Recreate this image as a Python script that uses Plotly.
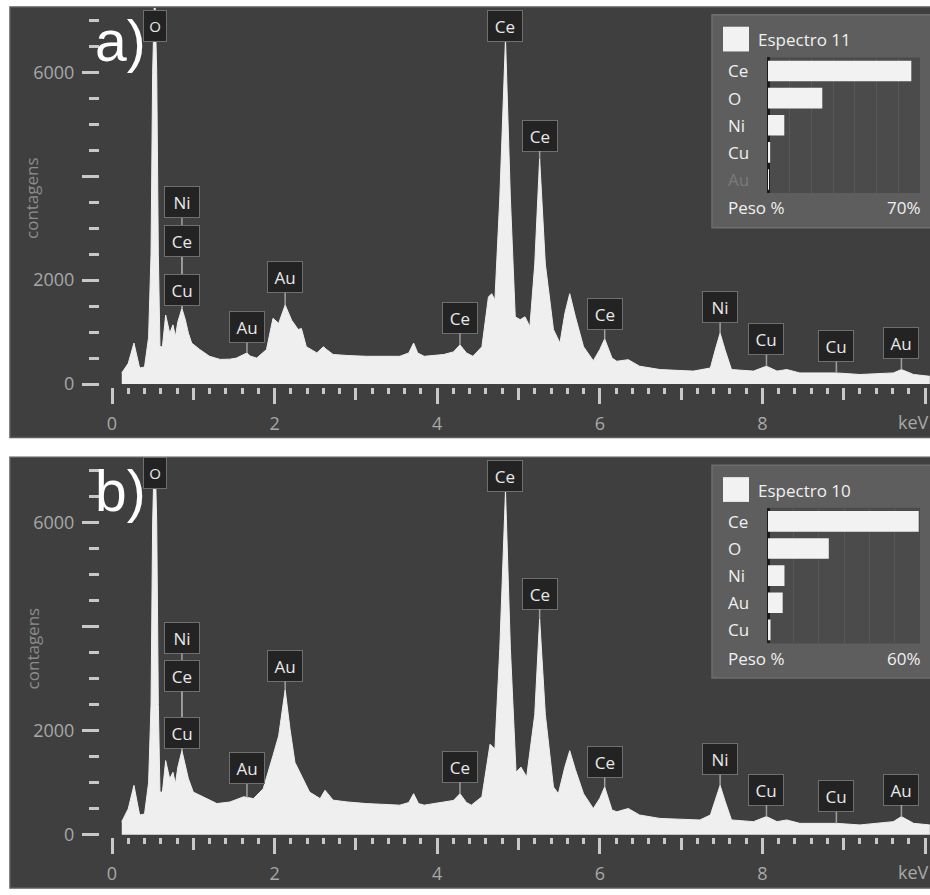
import plotly.graph_objects as go
import numpy as np

W, H = 930, 895
def px(x): return x / W
def py(y): return 1 - y / H

# ---------------- data ----------------
energy_a = [0.12, 0.20, 0.27, 0.31, 0.34, 0.40, 0.45, 0.48, 0.50, 0.525, 0.55, 0.57, 0.59, 0.62, 0.66, 0.71,
            0.75, 0.78, 0.81, 0.86, 0.90, 0.94, 0.98, 1.08, 1.20, 1.33, 1.45, 1.53, 1.61, 1.66, 1.70, 1.78,
            1.90, 1.98, 2.05, 2.13, 2.21, 2.29, 2.33, 2.39, 2.52, 2.60, 2.64, 2.72, 2.90, 3.13, 3.54, 3.65,
            3.71, 3.76, 3.84, 4.08, 4.20, 4.28, 4.36, 4.44, 4.55, 4.63, 4.67, 4.71, 4.77, 4.84, 4.90, 4.96,
            5.02, 5.08, 5.14, 5.20, 5.26, 5.33, 5.43, 5.51, 5.57, 5.63, 5.70, 5.80, 5.92, 6.00, 6.06, 6.15,
            6.21, 6.28, 6.35, 6.49, 6.74, 7.15, 7.36, 7.42, 7.48, 7.54, 7.62, 7.89, 8.05, 8.18, 8.30, 8.46,
            8.91, 9.20, 9.61, 9.71, 9.86, 10.06]
counts_a = [215, 400, 790, 520, 310, 330, 900, 2500, 6000, 7600, 6000, 2500, 720, 720, 1330, 980,
            1140, 915, 1200, 1455, 1250, 980, 790, 665, 535, 475, 480, 500, 560, 600, 540, 500,
            665, 1265, 1170, 1520, 1230, 1050, 1070, 720, 600, 720, 665, 570, 550, 535, 535, 600,
            790, 600, 535, 570, 620, 755, 600, 535, 720, 1675, 1740, 1620, 3580, 6650, 3580, 1295,
            1240, 1295, 1105, 2310, 4340, 2310, 1050, 790, 1360, 1740, 1295, 720, 450, 665, 870, 500,
            440, 450, 470, 345, 280, 250, 310, 660, 980, 660, 280, 250, 345, 250, 280, 215,
            215, 185, 215, 280, 185, 150]

energy_b = [0.12, 0.20, 0.27, 0.31, 0.34, 0.40, 0.45, 0.48, 0.50, 0.525, 0.55, 0.57, 0.59, 0.62, 0.66, 0.71,
            0.75, 0.78, 0.81, 0.86, 0.90, 0.94, 1.00, 1.12, 1.29, 1.45, 1.55, 1.62, 1.74, 1.86, 1.98, 2.05,
            2.13, 2.19, 2.25, 2.33, 2.43, 2.56, 2.62, 2.72, 2.90, 3.13, 3.54, 3.65, 3.71, 3.77, 3.84, 4.08,
            4.20, 4.28, 4.36, 4.42, 4.55, 4.65, 4.71, 4.77, 4.84, 4.90, 4.97, 5.03, 5.10, 5.20, 5.26, 5.33,
            5.43, 5.49, 5.57, 5.63, 5.70, 5.80, 5.92, 6.00, 6.06, 6.15, 6.21, 6.35, 6.49, 6.74, 7.23, 7.36,
            7.42, 7.48, 7.54, 7.62, 7.89, 8.05, 8.18, 8.30, 8.46, 8.91, 9.20, 9.61, 9.71, 9.86, 10.06]
counts_b = [253, 500, 950, 600, 380, 400, 1000, 2500, 6000, 7600, 6000, 2500, 820, 820, 1425, 1075,
            1200, 980, 1300, 1615, 1350, 1075, 820, 730, 600, 630, 680, 730, 695, 885, 1520, 1900,
            2785, 2025, 1390, 1140, 820, 695, 855, 665, 630, 600, 570, 620, 790, 600, 570, 630,
            660, 790, 620, 570, 730, 1740, 1645, 3580, 6600, 3580, 1200, 1300, 1110, 2310, 4150, 2310,
            920, 790, 1300, 1615, 1250, 790, 505, 700, 920, 475, 443, 505, 380, 315, 285, 380,
            650, 950, 650, 285, 253, 350, 253, 285, 220, 220, 190, 253, 350, 220, 190]

elements_a = ["Ce", "O", "Ni", "Cu", "Au"]
weight_a = [66, 25, 7.5, 1.0, 0.3]
elements_b = ["Ce", "O", "Ni", "Au", "Cu"]
weight_b = [59.5, 24, 6.5, 5.8, 1.0]

labels_a = [("O", 0.525), ("Ni", 0.86), ("Ce", 0.86), ("Cu", 0.86), ("Au", 1.66), ("Au", 2.13),
            ("Ce", 4.28), ("Ce", 4.84), ("Ce", 5.26), ("Ce", 6.06), ("Ni", 7.48), ("Cu", 8.05),
            ("Cu", 8.91), ("Au", 9.71)]
labels_b = [("O", 0.525), ("Ni", 0.86), ("Ce", 0.86), ("Cu", 0.86), ("Au", 1.66), ("Au", 2.13),
            ("Ce", 4.28), ("Ce", 4.84), ("Ce", 5.26), ("Ce", 6.06), ("Ni", 7.48), ("Cu", 8.05),
            ("Cu", 8.91), ("Au", 9.71)]
# label vertical offsets (px) - style only
ay_a = [-13, -106, -67, -18, -26, -28, -27, -13, -23, -25, -26, -27, -27, -27]
ay_b = [-15, -113, -75, -18, -29, -24, -27, -15, -25, -25, -26, -27, -27, -27]

spectrum_names = ["Espectro 11", "Espectro 10"]
scale_max = [70, 60]

# ---------------- style ----------------
FONT = "Open Sans"
BG = "#3f3f3f"
FILL = "#efefef"
TICKC = "#c8c8c8"
LBLC = "#a8a8a8"

XR = [(100 - 112) / 81.3, (930 - 112) / 81.3]
major_x = [0, 2, 4, 6, 8, 10]
odd_x = [1, 3, 5, 7, 9]
minor_x = [round(0.2 * i, 1) for i in range(51) if i % 5 != 0]
major_y = [0, 2000, 4000, 6000]
minor_y = [v for v in range(500, 7500, 500) if v not in major_y]

fig = go.Figure()

offsets = [0, 455]
yranges = [[-57, 7239], [-51, 7226]]
datasets = [(energy_a, counts_a), (energy_b, counts_b)]
bars = [(elements_a, weight_a), (elements_b, weight_b)]
label_sets = [(labels_a, ay_a), (labels_b, ay_b)]
panel_tags = ["a)", "b)"]

shapes = []
annotations = []
layout_axes = {}

for i in range(2):
    off = offsets[i]
    xm, ym = (1, 1) if i == 0 else (3, 3)
    xi, yi = (2, 2) if i == 0 else (4, 4)
    xo = 5 if i == 0 else 6
    e, c = datasets[i]

    shapes.append(dict(type="rect", xref="paper", yref="paper", x0=px(10), x1=px(940),
                       y0=py(off + 442), y1=py(off + 7), fillcolor=BG,
                       line=dict(color="#5c5c5c", width=1.5), layer="below"))
    shapes.append(dict(type="rect", xref="paper", yref="paper", x0=px(712), x1=px(945),
                       y0=py(off + 230), y1=py(off + 15), fillcolor="#5e5e5e",
                       line=dict(color="#6e6e6e", width=1.5), layer="below"))
    shapes.append(dict(type="rect", xref="paper", yref="paper", x0=px(768), x1=px(920),
                       y0=py(off + 195), y1=py(off + 58), fillcolor="#4b4b4b",
                       line=dict(width=0), layer="below"))
    shapes.append(dict(type="rect", xref="paper", yref="paper", x0=px(723), x1=px(749),
                       y0=py(off + 52), y1=py(off + 27), fillcolor="#f2f2f2",
                       line=dict(width=0), layer="above"))

    fig.add_trace(go.Scatter(x=e, y=c, mode="lines", fill="tozeroy", fillcolor=FILL,
                             line=dict(color=FILL, width=1), xaxis=f"x{xm}", yaxis=f"y{ym}",
                             showlegend=False, hoverinfo="skip"))
    fig.add_trace(go.Scatter(x=[], y=[], xaxis=f"x{xo}", yaxis=f"y{ym}", showlegend=False))
    el, wt = bars[i]
    fig.add_trace(go.Bar(x=wt, y=el, orientation="h", marker=dict(color="#f2f2f2", line=dict(width=0)),
                         width=0.76, xaxis=f"x{xi}", yaxis=f"y{yi}", showlegend=False))

    ydom = [py(off + 391), py(off + 8)]
    layout_axes[f"xaxis{xm}"] = dict(domain=[px(100), 1], range=XR, anchor=f"y{ym}",
                                     tickmode="array", tickvals=major_x,
                                     ticktext=["0", "2", "4", "6", "8", ""],
                                     ticks="outside", ticklen=16, tickwidth=3, tickcolor=TICKC,
                                     minor=dict(tickmode="array", tickvals=minor_x, ticks="outside",
                                                ticklen=6, tickwidth=3, tickcolor=TICKC),
                                     showgrid=False, zeroline=False, showline=False,
                                     tickfont=dict(family=FONT, size=18, color=LBLC),
                                     ticklabelstandoff=4)
    layout_axes[f"xaxis{xo}"] = dict(overlaying=f"x{xm}", anchor=f"y{ym}", range=XR, side="bottom",
                                     tickmode="array", tickvals=odd_x, ticktext=[""] * 5,
                                     ticks="outside", ticklen=12, tickwidth=3, tickcolor=TICKC,
                                     showgrid=False, zeroline=False, showline=False)
    layout_axes[f"yaxis{ym}"] = dict(domain=ydom, range=yranges[i], anchor=f"x{xm}",
                                     tickmode="array", tickvals=major_y,
                                     ticktext=["0", "2000", "", "6000"],
                                     ticks="outside", ticklen=17, tickwidth=3, tickcolor=TICKC,
                                     minor=dict(tickmode="array", tickvals=minor_y, ticks="outside",
                                                ticklen=10, tickwidth=3, tickcolor=TICKC),
                                     showgrid=False, zeroline=False, showline=False,
                                     tickfont=dict(family=FONT, size=18, color=LBLC),
                                     ticklabelstandoff=4)
    layout_axes[f"xaxis{xi}"] = dict(domain=[px(768), px(920)], range=[0, scale_max[i]], anchor=f"y{yi}",
                                     showgrid=True, gridcolor="#585858", gridwidth=1, dtick=10, tick0=0,
                                     showticklabels=False, ticks="", zeroline=True,
                                     zerolinecolor="#1c1c1c", zerolinewidth=3, showline=False)
    layout_axes[f"yaxis{yi}"] = dict(domain=[py(off + 195), py(off + 58)], anchor=f"x{xi}",
                                     type="category", categoryorder="array", categoryarray=el,
                                     autorange="reversed", showticklabels=False,
                                     ticks="", showgrid=False, zeroline=False)
    # left-aligned row labels placed through the inset's category axis
    for s, w in zip(el, wt):
        annotations.append(dict(x=px(726), y=s, xref="paper", yref=f"y{yi}", xanchor="left",
                                yanchor="middle", text=s, showarrow=False,
                                font=dict(family=FONT, size=17,
                                          color="#7a7a7a" if w < 0.5 else "#f0f0f0")))

    labs, ays = label_sets[i]
    for (txt, xe), ay in zip(labs, ays):
        yv = min(float(np.interp(xe, e, c)), 6650)
        annotations.append(dict(x=xe, y=yv, xref=f"x{xm}", yref=f"y{ym}", text=txt,
                                showarrow=True, arrowhead=0, arrowwidth=1.5, arrowcolor="#a0a0a0",
                                ax=0, ay=ay, bgcolor="#232323", bordercolor="#6f6f6f", borderwidth=1,
                                borderpad=4, width=14 if txt == "O" else 26, height=22,
                                font=dict(family=FONT, size=15 if txt == "O" else 17, color="#e8e8e8")))

    annotations.append(dict(x=px(93), y=py(off + 7), xref="paper", yref="paper", xanchor="left",
                            yanchor="top", text=panel_tags[i], showarrow=False,
                            font=dict(family="Liberation Sans", size=57, color="#ffffff")))
    annotations.append(dict(x=px(32), y=py(off + 200), xref="paper", yref="paper", textangle=-90,
                            xanchor="center", yanchor="middle",
                            text="contagens", showarrow=False,
                            font=dict(family=FONT, size=17, color="#8c8c8c")))
    annotations.append(dict(x=px(931), y=py(off + 426), xref="paper", yref="paper", xanchor="right",
                            yanchor="middle", text="keV", showarrow=False,
                            font=dict(family=FONT, size=18, color=LBLC)))
    annotations.append(dict(x=px(756), y=py(off + 40), xref="paper", yref="paper", xanchor="left",
                            yanchor="middle", text=spectrum_names[i], showarrow=False,
                            font=dict(family=FONT, size=17, color="#f0f0f0")))
    annotations.append(dict(x=px(726), y=py(off + 210), xref="paper", yref="paper", xanchor="left",
                            yanchor="middle", text="Peso %", showarrow=False,
                            font=dict(family=FONT, size=17, color="#f0f0f0")))
    annotations.append(dict(x=px(923), y=py(off + 210), xref="paper", yref="paper", xanchor="right",
                            yanchor="middle", text=f"{scale_max[i]}%", showarrow=False,
                            font=dict(family=FONT, size=17, color="#f0f0f0")))

fig.update_layout(width=W, height=H, margin=dict(l=0, r=0, t=0, b=0),
                  paper_bgcolor="white", plot_bgcolor="rgba(0,0,0,0)",
                  shapes=shapes, annotations=annotations, showlegend=False,
                  bargap=0.2, **layout_axes)

fig.write_html("out.html")
